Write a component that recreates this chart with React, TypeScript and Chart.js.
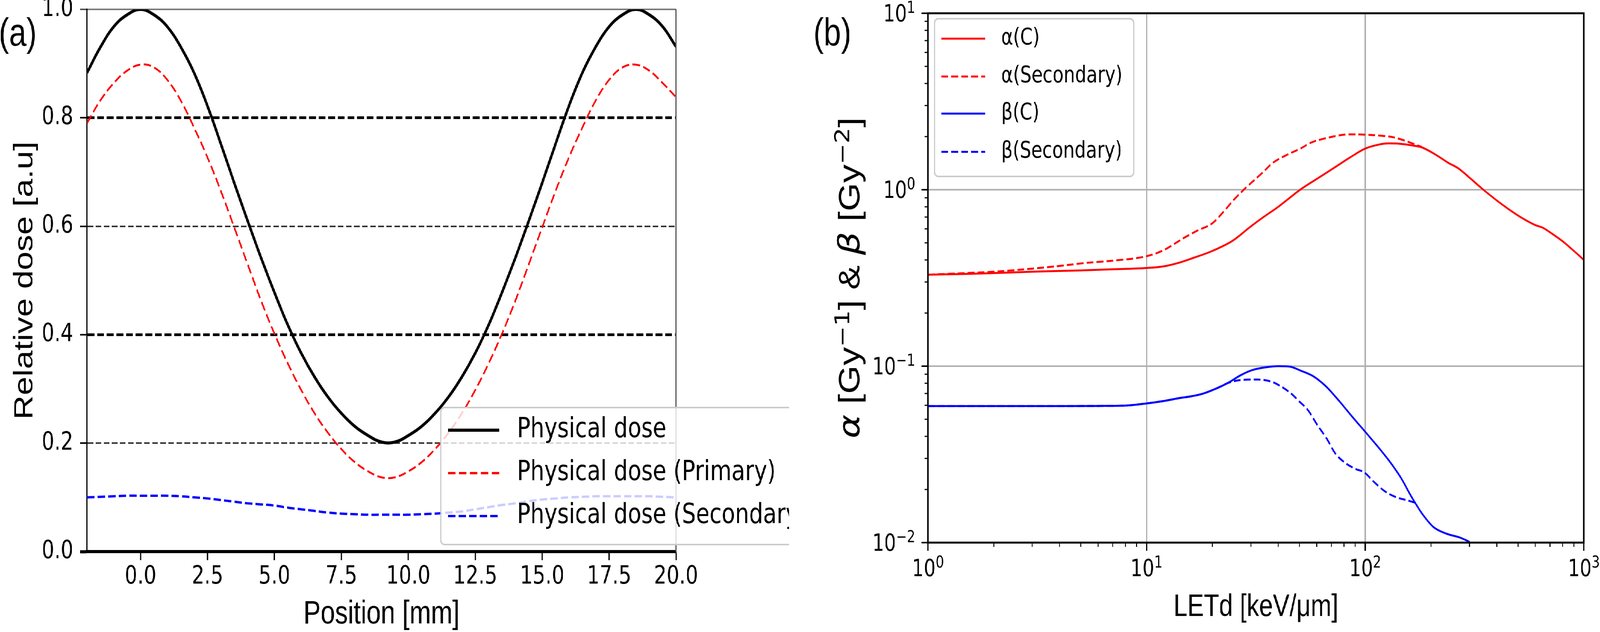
import React, { useEffect, useRef, useState } from 'react';
import { Chart, registerables } from 'chart.js';

Chart.register(...registerables);

// ---------------- Panel (a) data ----------------
const positionMm = [
  -2, -1.5, -1, -0.5, 0, 0.5, 1, 1.5, 2, 2.5, 3, 3.5, 4, 4.5, 5, 5.5, 6, 6.5, 7, 7.5, 8, 8.5, 9,
  9.5, 10, 10.5, 11, 11.5, 12, 12.5, 13, 13.5, 14, 14.5, 15, 15.5, 16, 16.5, 17, 17.5, 18, 18.5,
  19, 19.5, 20,
];
const physicalDose = [
  0.883, 0.93, 0.968, 0.99, 1.0, 0.99, 0.968, 0.931, 0.883, 0.822, 0.752, 0.68, 0.61, 0.542,
  0.478, 0.418, 0.366, 0.322, 0.285, 0.255, 0.231, 0.214, 0.202, 0.202, 0.214, 0.231, 0.255,
  0.285, 0.322, 0.366, 0.418, 0.478, 0.542, 0.61, 0.68, 0.752, 0.822, 0.883, 0.931, 0.968, 0.99,
  1.0, 0.99, 0.968, 0.931,
];
const physicalDosePrimary = [
  0.79, 0.832, 0.864, 0.887, 0.898, 0.893, 0.87, 0.832, 0.782, 0.727, 0.665, 0.598, 0.53, 0.463,
  0.402, 0.347, 0.298, 0.255, 0.219, 0.189, 0.165, 0.148, 0.137, 0.137, 0.148, 0.165, 0.189,
  0.219, 0.255, 0.298, 0.347, 0.402, 0.463, 0.53, 0.598, 0.665, 0.727, 0.782, 0.832, 0.87, 0.893,
  0.898, 0.887, 0.864, 0.838,
];
const physicalDoseSecondary = [
  0.1, 0.101, 0.102, 0.103, 0.103, 0.103, 0.103, 0.102, 0.1, 0.098, 0.095, 0.092, 0.089, 0.087,
  0.085, 0.081, 0.078, 0.075, 0.072, 0.07, 0.069, 0.068, 0.068, 0.068, 0.068, 0.069, 0.07, 0.072,
  0.074, 0.078, 0.082, 0.086, 0.089, 0.093, 0.096, 0.098, 0.1, 0.101, 0.102, 0.102, 0.102, 0.102,
  0.102, 0.101, 0.1,
];
const positionTicks = [0, 2.5, 5, 7.5, 10, 12.5, 15, 17.5, 20];
const doseTicks = [0, 0.2, 0.4, 0.6, 0.8, 1.0];
const legendLabelsA = ['Physical dose', 'Physical dose (Primary)', 'Physical dose (Secondary)'];

// ---------------- Panel (b) data ----------------
const letAlphaC = [
  1, 1.5, 2, 3, 5, 7, 10, 12, 14, 16.3, 20, 24.7, 30, 33.7, 40, 51, 60, 72, 85, 100, 115, 128, 145,
  165, 181, 210, 240, 267, 300, 347, 420, 513, 600, 647, 720, 800, 900, 1000,
];
const alphaC = [
  0.33, 0.333, 0.337, 0.343, 0.349, 0.354, 0.36, 0.368, 0.385, 0.41, 0.45, 0.513, 0.62, 0.69, 0.8,
  1.01, 1.15, 1.33, 1.52, 1.71, 1.8, 1.83, 1.82, 1.78, 1.74, 1.58, 1.42, 1.32, 1.17, 1.0, 0.83, 0.7,
  0.63, 0.61, 0.56, 0.51, 0.45, 0.4,
];
const letAlphaSec = [
  1, 1.5, 2, 3, 4, 5.2, 7.3, 10, 12, 14.7, 17, 20, 22.5, 24.7, 27.6, 30, 33.7, 37.8, 44, 51, 56, 65,
  72.6, 80, 90, 100, 115, 135, 155, 170, 181,
];
const alphaSec = [
  0.33, 0.337, 0.343, 0.357, 0.37, 0.384, 0.398, 0.42, 0.455, 0.53, 0.585, 0.646, 0.75, 0.86, 0.99,
  1.09, 1.24, 1.42, 1.58, 1.72, 1.84, 1.95, 2.01, 2.05, 2.06, 2.05, 2.03, 1.98, 1.88, 1.8, 1.75,
];
const letBetaC = [
  1, 2, 4, 6, 8, 10, 12, 14.2, 16, 18, 21, 23.7, 27, 30.4, 35, 40, 45, 51, 58, 66, 76.8, 88, 99, 112,
  127, 145, 164, 185, 206, 237, 270, 300,
];
const betaC = [
  0.0594, 0.0594, 0.0594, 0.0595, 0.0598, 0.0615, 0.0635, 0.066, 0.0675, 0.0697, 0.075, 0.0807,
  0.089, 0.095, 0.0985, 0.1, 0.0995, 0.094, 0.0875, 0.077, 0.0625, 0.051, 0.0431, 0.036, 0.0297,
  0.0235, 0.0179, 0.0142, 0.0122, 0.0112, 0.0107, 0.0101,
];
const letBetaSec = [
  1, 2, 4, 6, 8, 10, 12, 14.2, 16, 18, 21, 23.7, 27, 32, 36.9, 41, 46, 50, 54.8, 60, 66.7, 73, 81,
  90, 99, 110, 124, 140, 155, 170,
];
const betaSec = [
  0.0594, 0.0594, 0.0594, 0.0595, 0.0598, 0.0615, 0.0635, 0.066, 0.0675, 0.0697, 0.075, 0.0805,
  0.0835, 0.084, 0.082, 0.077, 0.0697, 0.063, 0.0562, 0.047, 0.0388, 0.032, 0.0283, 0.0262, 0.025,
  0.022, 0.0194, 0.018, 0.0174, 0.0168,
];
const letDecades = [1, 10, 100, 1000];
const letExponents = ['0', '1', '2', '3'];
const coefDecades = [0.01, 0.1, 1, 10];
const coefExponents = ['\u22122', '\u22121', '0', '1'];
const legendLabelsB = ['\u03b1(C)', '\u03b1(Secondary)', '\u03b2(C)', '\u03b2(Secondary)'];

// ---------------- layout / style ----------------
const FONT_DV = '"DejaVu Sans", "Noto Sans", sans-serif';
const FONT_AR = '"Liberation Sans", Arial, sans-serif';
const FULL_W = 5152;
const FULL_H = 1619;
const SPLIT = 2541;

function roundRectPath(ctx: CanvasRenderingContext2D, x: number, y: number, w: number, h: number, r: number) {
  ctx.beginPath();
  ctx.moveTo(x + r, y);
  ctx.lineTo(x + w - r, y);
  ctx.arcTo(x + w, y, x + w, y + r, r);
  ctx.lineTo(x + w, y + h - r);
  ctx.arcTo(x + w, y + h, x + w - r, y + h, r);
  ctx.lineTo(x + r, y + h);
  ctx.arcTo(x, y + h, x, y + h - r, r);
  ctx.lineTo(x, y + r);
  ctx.arcTo(x, y, x + r, y, r);
  ctx.closePath();
}

function drawLegend(
  ctx: CanvasRenderingContext2D,
  chart: any,
  box: [number, number, number, number],
  rows: number[],
  sample: [number, number],
  textX: number,
  fontSize: number,
  sampleWidth: number[],
) {
  ctx.save();
  roundRectPath(ctx, box[0], box[1], box[2], box[3], 12);
  ctx.fillStyle = 'rgba(255,255,255,0.8)';
  ctx.fill();
  ctx.strokeStyle = '#cccccc';
  ctx.lineWidth = 4;
  ctx.stroke();
  chart.data.datasets.forEach((ds: any, i: number) => {
    const yy = rows[i];
    ctx.strokeStyle = ds.borderColor;
    ctx.lineWidth = sampleWidth[i];
    ctx.setLineDash(ds.borderDash || []);
    ctx.beginPath();
    ctx.moveTo(sample[0], yy);
    ctx.lineTo(sample[1], yy);
    ctx.stroke();
    ctx.setLineDash([]);
    ctx.fillStyle = '#000';
    ctx.font = `${fontSize}px ${FONT_DV}`;
    ctx.textAlign = 'left';
    ctx.textBaseline = 'middle';
    ctx.fillText(ds.label, textX, yy);
  });
  ctx.restore();
}

type Seg = { t: string; font: string; raise: number };

function drawRotatedRich(ctx: CanvasRenderingContext2D, segs: Seg[], baseX: number, centerY: number) {
  ctx.save();
  ctx.translate(baseX, centerY);
  ctx.rotate(-Math.PI / 2);
  ctx.textAlign = 'left';
  ctx.textBaseline = 'alphabetic';
  ctx.fillStyle = '#000';
  let total = 0;
  const widths = segs.map((s) => {
    ctx.font = s.font;
    const w = ctx.measureText(s.t).width;
    total += w;
    return w;
  });
  let u = -total / 2;
  segs.forEach((s, i) => {
    ctx.font = s.font;
    ctx.fillText(s.t, u, -s.raise);
    u += widths[i];
  });
  ctx.restore();
}

function drawPow(ctx: CanvasRenderingContext2D, exp: string, ax: number, baseline: number, align: 'center' | 'right') {
  ctx.save();
  ctx.fillStyle = '#000';
  ctx.textAlign = 'left';
  ctx.textBaseline = 'alphabetic';
  ctx.font = `60px ${FONT_DV}`;
  const w1 = ctx.measureText('10').width;
  ctx.font = `42px ${FONT_DV}`;
  const w2 = ctx.measureText(exp).width;
  const total = w1 + w2;
  const start = align === 'center' ? ax - total / 2 : ax - total;
  ctx.font = `60px ${FONT_DV}`;
  ctx.fillText('10', start, baseline);
  ctx.font = `42px ${FONT_DV}`;
  ctx.fillText(exp, start + w1, baseline - 22);
  ctx.restore();
}

const panelAPlugin = {
  id: 'panelA',
  afterDraw(chart: any) {
    const { ctx, chartArea: ca } = chart;
    ctx.save();
    ctx.strokeStyle = '#555';
    ctx.lineWidth = 4;
    ctx.beginPath();
    ctx.moveTo(ca.right, ca.top);
    ctx.lineTo(ca.right, ca.bottom);
    ctx.stroke();
    ctx.restore();

    drawLegend(ctx, chart, [1419, 1044, 1300, 351], [1102, 1212, 1322], [1443, 1607], 1665, 71, [8, 6, 6]);

    ctx.save();
    ctx.fillStyle = '#000';
    ctx.textBaseline = 'alphabetic';
    ctx.textAlign = 'left';
    ctx.font = `100px ${FONT_AR}`;
    ctx.fillText('(a)', -4, 117);
    ctx.textAlign = 'center';
    ctx.font = `83px ${FONT_AR}`;
    ctx.fillText('Position [mm]', (ca.left + ca.right) / 2, 1597);
    ctx.translate(104, (ca.top + ca.bottom) / 2);
    ctx.rotate(-Math.PI / 2);
    ctx.font = `86px ${FONT_AR}`;
    ctx.fillText('Relative dose [a.u]', 0, 0);
    ctx.restore();
  },
};

const panelBPlugin = {
  id: 'panelB',
  afterDraw(chart: any) {
    const { ctx, chartArea: ca, scales } = chart;
    const xs = scales.x;
    const ys = scales.y;
    ctx.save();
    ctx.strokeStyle = '#000';
    ctx.lineWidth = 5;
    ctx.strokeRect(ca.left, ca.top, ca.right - ca.left, ca.bottom - ca.top);

    const drawTick = (x1: number, y1: number, x2: number, y2: number, w: number) => {
      ctx.lineWidth = w;
      ctx.beginPath();
      ctx.moveTo(x1, y1);
      ctx.lineTo(x2, y2);
      ctx.stroke();
    };
    letDecades.forEach((d, i) => {
      const px = xs.getPixelForValue(d);
      drawTick(px, ca.bottom, px, ca.bottom + 21, 4);
      if (i < letDecades.length - 1) {
        for (let m = 2; m <= 9; m++) {
          const p = xs.getPixelForValue(d * m);
          drawTick(p, ca.bottom, p, ca.bottom + 11, 3);
        }
      }
    });
    coefDecades.forEach((d, i) => {
      const py = ys.getPixelForValue(d);
      drawTick(ca.left, py, ca.left - 21, py, 4);
      if (i < coefDecades.length - 1) {
        for (let m = 2; m <= 9; m++) {
          const p = ys.getPixelForValue(d * m);
          drawTick(ca.left, p, ca.left - 11, p, 3);
        }
      }
    });
    ctx.restore();

    letDecades.forEach((d, i) => drawPow(ctx, letExponents[i], xs.getPixelForValue(d), 1476, 'center'));
    coefDecades.forEach((d, i) => drawPow(ctx, coefExponents[i], 406, ys.getPixelForValue(d) + 21, 'right'));

    drawLegend(ctx, chart, [468, 48, 642, 404], [99, 196, 291, 389], [490, 631], 683, 58, [5, 5, 5, 5]);

    ctx.save();
    ctx.fillStyle = '#000';
    ctx.textBaseline = 'alphabetic';
    ctx.textAlign = 'left';
    ctx.font = `100px ${FONT_AR}`;
    ctx.fillText('(b)', 78, 117);
    ctx.textAlign = 'center';
    ctx.font = `80px ${FONT_AR}`;
    ctx.fillText('LETd [keV/\u03bcm]', (ca.left + ca.right) / 2, 1578);
    ctx.restore();

    const S = 94;
    const SUP = 64;
    const segs: Seg[] = [
      { t: '\u03b1', font: `italic ${S}px ${FONT_DV}`, raise: 0 },
      { t: ' [Gy', font: `${S}px ${FONT_AR}`, raise: 0 },
      { t: '\u22121', font: `${SUP}px ${FONT_DV}`, raise: 33 },
      { t: '] & ', font: `${S}px ${FONT_AR}`, raise: 0 },
      { t: '\u03b2', font: `italic ${S}px ${FONT_DV}`, raise: 0 },
      { t: ' [Gy', font: `${S}px ${FONT_AR}`, raise: 0 },
      { t: '\u22122', font: `${SUP}px ${FONT_DV}`, raise: 33 },
      { t: ']', font: `${S}px ${FONT_AR}`, raise: 0 },
    ];
    drawRotatedRich(ctx, segs, 226, (ca.top + ca.bottom) / 2);
  },
};

function isThickDose(v: number) {
  return Math.round(v * 10) % 4 === 0;
}

function fitScale(): [number, number] {
  if (typeof window === 'undefined') return [1, 1];
  const w = window.innerWidth || FULL_W;
  const h = window.innerHeight || FULL_H;
  return [w / FULL_W, h / FULL_H];
}

export default function App() {
  const refA = useRef<HTMLCanvasElement>(null);
  const refB = useRef<HTMLCanvasElement>(null);
  const [scale] = useState(fitScale);

  useEffect(() => {
    document.body.style.margin = '0';
    document.body.style.background = '#fff';
    document.body.style.overflow = 'hidden';

    const pts = (xs: number[], ys: number[]) => xs.map((x, i) => ({ x, y: ys[i] }));

    const chartA = new Chart(refA.current as HTMLCanvasElement, {
      type: 'line',
      data: {
        datasets: [
          {
            label: legendLabelsA[0],
            data: pts(positionMm, physicalDose),
            borderColor: '#000000',
            borderWidth: 8,
            pointRadius: 0,
            tension: 0.4,
            fill: false,
          },
          {
            label: legendLabelsA[1],
            data: pts(positionMm, physicalDosePrimary),
            borderColor: '#ff0000',
            borderWidth: 5,
            borderDash: [24, 11],
            pointRadius: 0,
            tension: 0.4,
            fill: false,
          },
          {
            label: legendLabelsA[2],
            data: pts(positionMm, physicalDoseSecondary),
            borderColor: '#0000ff',
            borderWidth: 6,
            borderDash: [24, 10],
            pointRadius: 0,
            tension: 0.4,
            fill: false,
          },
        ],
      } as any,
      options: {
        responsive: false,
        animation: false,
        devicePixelRatio: 1,
        events: [],
        layout: { padding: { left: 0, right: SPLIT - 2177, top: 24, bottom: 0 } },
        plugins: { legend: { display: false }, tooltip: { enabled: false }, title: { display: false } },
        scales: {
          x: {
            type: 'linear',
            min: -2,
            max: 20,
            afterBuildTicks: (s: any) => {
              s.ticks = positionTicks.map((v) => ({ value: v }));
            },
            afterFit: (s: any) => {
              s.height = FULL_H - 1413;
              s.paddingLeft = 0;
              s.paddingRight = 0;
              s.paddingTop = 0;
              s.paddingBottom = 0;
            },
            ticks: {
              autoSkip: false,
              maxRotation: 0,
              minRotation: 0,
              padding: 5,
              color: '#000',
              font: { family: FONT_DV, size: 64 },
              callback: (v: any) => Number(v).toFixed(1),
            },
            grid: {
              drawOnChartArea: false,
              drawTicks: true,
              tickLength: 22,
              tickWidth: 4,
              tickColor: '#000',
            },
            border: { display: true, color: '#000', width: 8 },
          },
          y: {
            type: 'linear',
            min: 0,
            max: 1,
            afterBuildTicks: (s: any) => {
              s.ticks = doseTicks.map((v) => ({ value: v }));
            },
            afterFit: (s: any) => {
              s.width = 280;
              s.paddingLeft = 0;
              s.paddingRight = 0;
              s.paddingTop = 0;
              s.paddingBottom = 0;
            },
            ticks: {
              padding: 22,
              color: '#000',
              font: { family: FONT_DV, size: 64 },
              callback: (v: any) => Number(v).toFixed(1),
            },
            grid: {
              drawTicks: true,
              tickLength: 22,
              color: (c: any) => {
                const v = c.tick ? c.tick.value : undefined;
                if (v === undefined || v < 0.01) return 'rgba(0,0,0,0)';
                if (v > 0.99) return '#7a7a7a';
                return isThickDose(v) ? '#000000' : '#333333';
              },
              lineWidth: (c: any) => {
                const v = c.tick ? c.tick.value : undefined;
                if (v === undefined) return 0;
                if (v > 0.99) return 4;
                return isThickDose(v) ? 7 : 4;
              },
              tickColor: (c: any) => {
                const v = c.tick ? c.tick.value : undefined;
                return v !== undefined && v > 0.99 ? '#555' : '#000';
              },
              tickWidth: (c: any) => {
                const v = c.tick ? c.tick.value : undefined;
                return v !== undefined && v < 0.01 ? 8 : 4;
              },
            },
            border: {
              display: true,
              color: '#000',
              width: 4,
              dash: (c: any) => {
                const v = c && c.tick ? c.tick.value : undefined;
                if (v === undefined || v > 0.99 || v < 0.01) return [];
                return isThickDose(v) ? [22, 9] : [18, 8];
              },
            },
          },
        },
      } as any,
      plugins: [panelAPlugin],
    });

    const chartB = new Chart(refB.current as HTMLCanvasElement, {
      type: 'line',
      data: {
        datasets: [
          {
            label: legendLabelsB[0],
            data: pts(letAlphaC, alphaC),
            borderColor: '#ff0000',
            borderWidth: 5,
            pointRadius: 0,
            cubicInterpolationMode: 'monotone',
            fill: false,
          },
          {
            label: legendLabelsB[1],
            data: pts(letAlphaSec, alphaSec),
            borderColor: '#ff0000',
            borderWidth: 5,
            borderDash: [22, 10],
            pointRadius: 0,
            cubicInterpolationMode: 'monotone',
            fill: false,
          },
          {
            label: legendLabelsB[2],
            data: pts(letBetaC, betaC),
            borderColor: '#0000ff',
            borderWidth: 5,
            pointRadius: 0,
            cubicInterpolationMode: 'monotone',
            fill: false,
          },
          {
            label: legendLabelsB[3],
            data: pts(letBetaSec, betaSec),
            borderColor: '#0000ff',
            borderWidth: 5,
            borderDash: [22, 10],
            pointRadius: 0,
            cubicInterpolationMode: 'monotone',
            fill: false,
          },
        ],
      } as any,
      options: {
        responsive: false,
        animation: false,
        devicePixelRatio: 1,
        events: [],
        layout: { padding: { left: 0, right: 52, top: 34, bottom: 0 } },
        plugins: { legend: { display: false }, tooltip: { enabled: false }, title: { display: false } },
        scales: {
          x: {
            type: 'logarithmic',
            min: 1,
            max: 1000,
            afterBuildTicks: (s: any) => {
              s.ticks = letDecades.map((v) => ({ value: v }));
            },
            afterFit: (s: any) => {
              s.height = FULL_H - 1390;
              s.paddingLeft = 0;
              s.paddingRight = 0;
              s.paddingTop = 0;
              s.paddingBottom = 0;
            },
            ticks: { display: false },
            grid: { color: '#b0b0b0', lineWidth: 4, drawTicks: false },
            border: { display: false },
          },
          y: {
            type: 'logarithmic',
            min: 0.01,
            max: 10,
            afterBuildTicks: (s: any) => {
              s.ticks = coefDecades.map((v) => ({ value: v }));
            },
            afterFit: (s: any) => {
              s.width = 447;
              s.paddingLeft = 0;
              s.paddingRight = 0;
              s.paddingTop = 0;
              s.paddingBottom = 0;
            },
            ticks: { display: false },
            grid: { color: '#b0b0b0', lineWidth: 4, drawTicks: false },
            border: { display: false },
          },
        },
      } as any,
      plugins: [panelBPlugin],
    });

    return () => {
      chartA.destroy();
      chartB.destroy();
    };
  }, []);

  const [sx, sy] = scale;
  return (
    <div style={{ width: FULL_W * sx, height: FULL_H * sy, overflow: 'hidden', background: '#fff' }}>
      <div
        style={{
          position: 'relative',
          width: FULL_W,
          height: FULL_H,
          background: '#fff',
          transform: `scale(${sx}, ${sy})`,
          transformOrigin: '0 0',
        }}
      >
        <canvas
          ref={refA}
          width={SPLIT}
          height={FULL_H}
          style={{ position: 'absolute', left: 0, top: 0, width: SPLIT, height: FULL_H }}
        />
        <canvas
          ref={refB}
          width={FULL_W - SPLIT}
          height={FULL_H}
          style={{ position: 'absolute', left: SPLIT, top: 0, width: FULL_W - SPLIT, height: FULL_H }}
        />
      </div>
    </div>
  );
}
